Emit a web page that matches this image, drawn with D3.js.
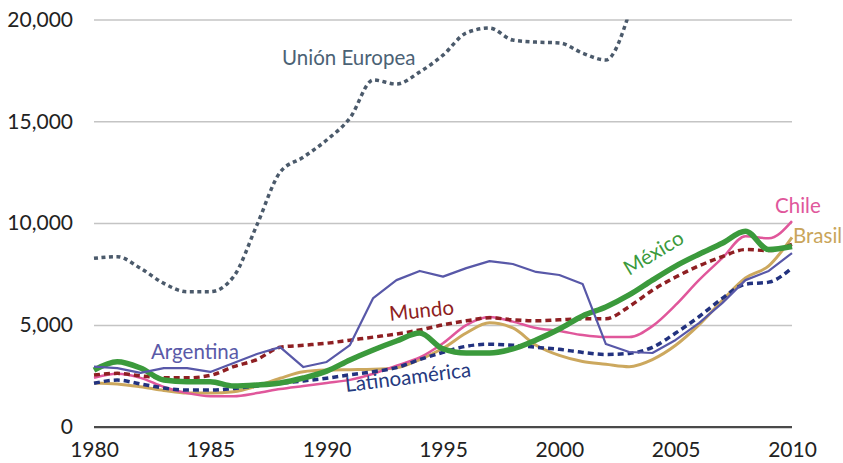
<!DOCTYPE html>
<meta charset="utf-8">
<style>
    body { margin: 0; background: #fff; }
    svg text { font-family: Lato, "Open Sans", sans-serif; }
    .tick text { fill: #222; font-size: 21px; }
</style>
<body>
<script src="https://cdn.jsdelivr.net/npm/d3@7"></script>
<script>

var years = d3.range(1980, 2011);

var unionEuropea = [8270, 8350, 7780, 7040, 6630, 6630, 7370, 9900, 12500, 13240, 14080, 15160, 17030, 16830, 17420,
                    18250, 19340, 19580, 18990, 18890, 18850, 18350, 18010, 20300];
var argentina = [2950, 2880, 2640, 2880, 2880, 2690, 3130, 3570, 3910, 2930, 3180, 4010, 6320, 7200, 7650,
                 7370, 7790, 8130, 7990, 7600, 7450, 7010, 4060, 3670, 3620, 4260, 5090, 6070, 7200, 7650, 8530];
var mexico = [2780, 3190, 2880, 2290, 2210, 2210, 2000, 2050, 2150, 2390, 2730, 3280, 3770, 4210, 4600,
              3820, 3620, 3620, 3820, 4260, 4800, 5440, 5880, 6470, 7200, 7890, 8470, 9010, 9600, 8700, 8850];
var chile = [2400, 2600, 2400, 1950, 1650, 1500, 1500, 1650, 1850, 2000, 2150, 2300, 2600, 3000, 3400,
             4100, 4990, 5390, 5160, 4850, 4700, 4500, 4400, 4400, 4940, 5980, 7200, 8280, 9360, 9250, 10100];
var brasil = [2150, 2100, 1960, 1780, 1650, 1650, 1720, 2000, 2380, 2700, 2780, 2800, 2820, 2900, 3300,
              3850, 4600, 5100, 4850, 4000, 3500, 3200, 3070, 2950, 3300, 4000, 5000, 6200, 7300, 7900, 9300];
var mundo = [2540, 2620, 2500, 2400, 2400, 2520, 2950, 3300, 3900, 4000, 4100, 4250, 4400, 4550, 4750,
             5000, 5200, 5350, 5250, 5200, 5250, 5300, 5300, 5900, 6700, 7350, 7900, 8350, 8700, 8650, 8950];
var latinoamerica = [2130, 2290, 2100, 1900, 1800, 1800, 1880, 2000, 2130, 2250, 2380, 2550, 2700, 2900, 3300,
                     3650, 3950, 4050, 4000, 3900, 3800, 3650, 3550, 3600, 3900, 4600, 5400, 6300, 7000, 7100, 7800];

var yTicks = [0, 5000, 10000, 15000, 20000];
var xTicks = [1980, 1985, 1990, 1995, 2000, 2005, 2010];

var width = 843, height = 463;
var margin = {left: 94, right: 792, top: 19.5, bottom: 426.7};

var svg = d3.select("body").append("svg")
    .attr("width", width)
    .attr("height", height);

var x = d3.scaleLinear().domain([1980, 2010]).range([margin.left, margin.right]);
var y = d3.scaleLinear().domain([0, 20000]).range([margin.bottom, margin.top]);

// gridlines + y labels
var yAxis = svg.append("g")
    .attr("transform", "translate(" + margin.left + ",0)")
    .call(d3.axisLeft(y).tickValues(yTicks).tickFormat(d3.format(","))
        .tickSize(-(margin.right - margin.left)).tickPadding(21));
yAxis.select(".domain").remove();
yAxis.selectAll(".tick line")
    .attr("stroke", function(d) { return d === 0 ? "#4a4a4a" : "#c4c4c4"; })
    .attr("stroke-width", function(d) { return d === 0 ? 2.2 : 1.5; });

var xAxis = svg.append("g")
    .attr("transform", "translate(0," + margin.bottom + ")")
    .call(d3.axisBottom(x).tickValues(xTicks).tickFormat(d3.format("d")).tickSize(0).tickPadding(15));
xAxis.select(".domain").remove();

svg.append("clipPath").attr("id", "plot")
  .append("rect").attr("x", 0).attr("y", margin.top)
    .attr("width", width).attr("height", margin.bottom - margin.top + 10);

var smooth = d3.line()
    .x(function(d, i) { return x(years[i]); })
    .y(function(d) { return y(d); })
    .curve(d3.curveMonotoneX);

var straight = d3.line()
    .x(function(d, i) { return x(years[i]); })
    .y(function(d) { return y(d); });

var lines = svg.append("g").attr("clip-path", "url(#plot)");

function draw(values, color, w, dash, gen) {
  lines.append("path")
      .datum(values)
      .attr("fill", "none")
      .attr("stroke", color)
      .attr("stroke-width", w)
      .attr("stroke-dasharray", dash)
      .attr("stroke-linejoin", "round")
      .attr("d", gen || smooth);
}

draw(unionEuropea, "#4b5a6b", 3.5, "4,3.5");
draw(brasil, "#cca85e", 3, null);
draw(chile, "#e0579b", 2.5, null);
draw(latinoamerica, "#22327f", 3.5, "6,4");
draw(mundo, "#8e1f22", 3.5, "6,4");
draw(mexico, "#3b9a3c", 5.5, null);
draw(argentina, "#5858a8", 2.2, null, straight);

// labels
function label(text, color, px, py, angle) {
  svg.append("text")
      .attr("transform", "translate(" + px + "," + py + ") rotate(" + angle + ")")
      .attr("fill", color)
      .style("font-size", "20.5px")
      .text(text);
}

label("Unión Europea", "#4b6275", 282, 65, 0);
label("Argentina", "#5a5aa8", 151, 359, 0);
label("Mundo", "#8e1f22", 390, 321, -6);
label("Latinoamérica", "#263a80", 346, 392, -7);
label("México", "#3b9a3c", 629, 276, -31);
label("Chile", "#e0579b", 775, 213, 0);
label("Brasil", "#c9a55a", 793, 243, 0);

</script>
</body>
